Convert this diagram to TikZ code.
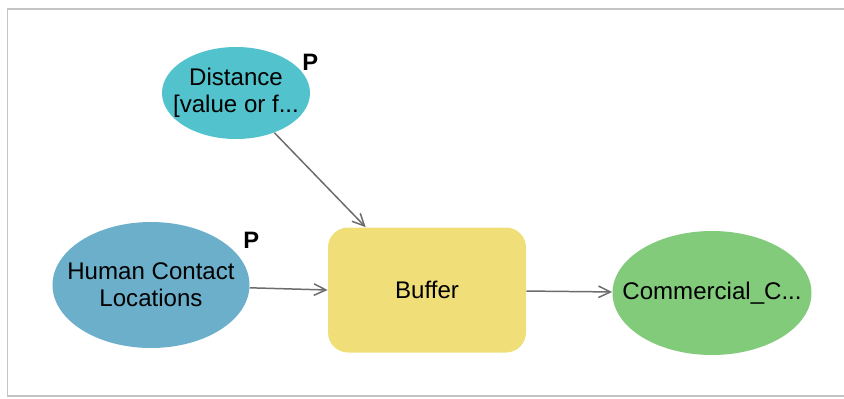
\documentclass[tikz,border=0pt]{standalone}
\usepackage{fontspec}
\setmainfont{Liberation Sans}
\usetikzlibrary{shapes.geometric, arrows.meta}
\definecolor{varcyan}{HTML}{52C2CD}
\definecolor{datablue}{HTML}{6BAFCB}
\definecolor{toolyellow}{HTML}{F0DF78}
\definecolor{outgreen}{HTML}{81CB7B}
\definecolor{framegray}{HTML}{C4C4C4}
\tikzstyle{paramvar} = [ellipse, minimum width=2.96cm, minimum height=1.84cm, inner xsep=-0.45cm, text centered, align=center, fill=varcyan, font=\fontsize{13.7}{15.5}\selectfont]
\tikzstyle{datain} = [ellipse, minimum width=3.94cm, minimum height=2.52cm, inner xsep=-0.45cm, text centered, align=center, fill=datablue, font=\fontsize{13.7}{15.5}\selectfont]
\tikzstyle{tool} = [rectangle, rounded corners=0.4cm, minimum width=3.96cm, minimum height=2.5cm, text centered, fill=toolyellow, font=\fontsize{13.7}{15.5}\selectfont]
\tikzstyle{dataout} = [ellipse, minimum width=3.98cm, minimum height=2.48cm, inner xsep=-0.45cm, text centered, fill=outgreen, font=\fontsize{13.7}{15.5}\selectfont]
\tikzstyle{plabel} = [inner sep=0pt, font=\fontsize{13.5}{15}\selectfont\bfseries]
\tikzstyle{arrow} = [draw=gray!85!black, line width=0.85pt, -{Straight Barb[length=2.4mm, width=2.3mm]}]

\begin{document}
\begin{tikzpicture}[node distance=5.6cm]

\useasboundingbox (0,0) rectangle (16.88,-7.96);
\draw [framegray, line width=0.8pt] (16.95,-0.18) -- (0.15,-0.18) -- (0.15,-7.92) -- (16.95,-7.92);

\node (buffer) [tool] at (8.54,-5.80) {Buffer};
\node (human) [datain, left of=buffer, xshift=0.08cm, yshift=0.1cm] {Human Contact\\Locations};
\node (comm) [dataout, right of=buffer, xshift=0.1cm, yshift=-0.06cm] {Commercial\_C...};
\node (dist) [paramvar, above of=human, xshift=1.7cm, yshift=-1.76cm] {Distance\\{[}value or f...};
\node (pdist) [plabel, yshift=0.62cm] at (dist.east) {P};
\node (phuman) [plabel, xshift=0.03cm, yshift=0.9cm] at (human.east) {P};

\draw [arrow] (dist) -- ([xshift=0.76cm]buffer.north west);
\draw [arrow] (human) -- (buffer.west);
\draw [arrow] (buffer) -- (comm);

\end{tikzpicture}
\end{document}
